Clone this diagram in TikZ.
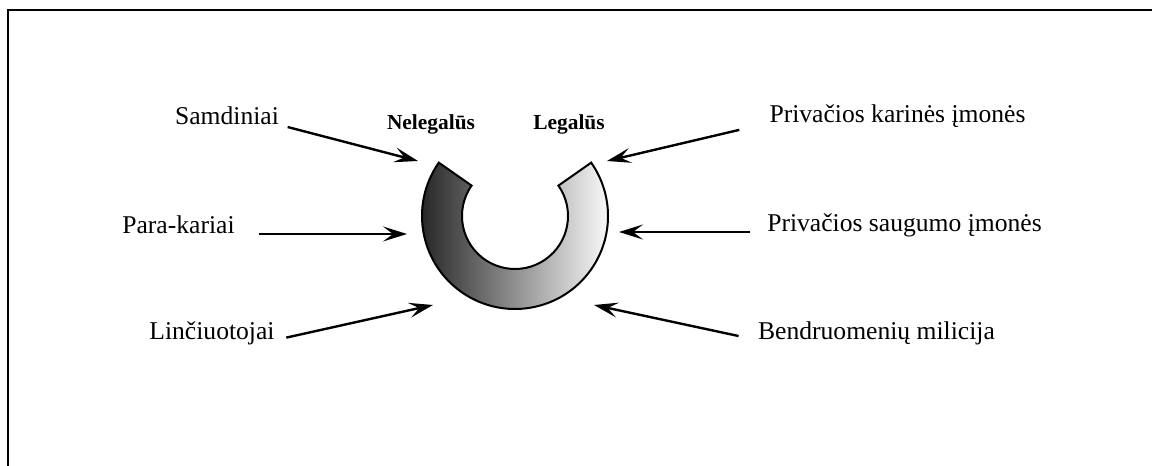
\documentclass[tikz,border=0pt]{standalone}
\usepackage{fontspec}
\setmainfont{Liberation Serif}
\usetikzlibrary{arrows.meta}
\tikzset{% arrow tips and label fonts
    >={Stealth[length=12pt,width=7.5pt,inset=5pt]},
    lbl/.style={font=\fontsize{12.8}{15}\selectfont, inner sep=0pt, anchor=base},
    side/.style={font=\bfseries\fontsize{10.7}{13}\selectfont, inner sep=0pt, anchor=base}
}

\begin{document}
\begin{tikzpicture}[x=0.5pt,y=0.5pt,line width=1pt]
    		\newcommand{\cx}{515}
    		\newcommand{\cy}{250}
    		\newcommand{\rout}{93}
    		\newcommand{\rin}{53}

    		\useasboundingbox (0,0) rectangle (1152,466);

    		% frame
    		\draw (8,-10) -- (8,456) -- (1162,456);

    		% ring
    		\draw[left color=black!90, middle color=black!40, right color=white] (\cx,\cy) ++(145:\rout)
    		    arc[start angle=145, end angle=395, radius=\rout] -- ++(215:40)
    		    arc[start angle=35, end angle=-215, radius=\rin] -- cycle;

    		% labels
    		\node[side] (neleg) at (431,336) {Nelegalūs};
    		\node[side] (leg) at (569,336) {Legalūs};

    		\node[lbl] (samd) at (227,341) {Samdiniai};
    		\node[lbl] (para) at (178.5,232) {Para-kariai};
    		\node[lbl] (linc) at (212,126) {Linčiuotojai};
    		\node[lbl] (karin) at (897.5,343) {Privačios karinės įmonės};
    		\node[lbl] (saug) at (904.5,234) {Privačios saugumo įmonės};
    		\node[lbl] (bendr) at (876.5,126) {Bendruomenių milicija};

    		% arrow heads at the ring
    		\coordinate (hsamd) at (418,305);
    		\coordinate (hpara) at (407,232);
    		\coordinate (hlinc) at (433,161);
    		\coordinate (hkarin) at (607,305);
    		\coordinate (hsaug) at (619,234);
    		\coordinate (hbendr) at (594,161);

    		% arrows
    		\begin{scope}[line width=1.2pt]
    		\draw[->, shorten <=4pt] (samd.base east) -- (hsamd);
    		\draw[->, shorten <=11.5pt] (para.base east) -- (hpara);
    		\draw[->, shorten <=5.5pt] (linc.base east) -- (hlinc);
    		\draw[->, shorten <=15pt] (karin.base west) -- (hkarin);
    		\draw[->, shorten <=8pt] (saug.base west) -- (hsaug);
    		\draw[->, shorten <=9.5pt] (bendr.base west) -- (hbendr);
    		\end{scope}
\end{tikzpicture}
\end{document}
